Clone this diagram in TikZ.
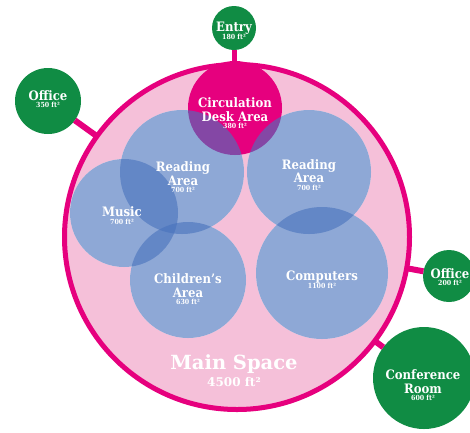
\documentclass[tikz,border=0pt]{standalone}
\usepackage{fontspec}
\newfontfamily\slab{DejaVu Serif Condensed}
\newfontfamily\slabwide{DejaVu Serif}
\definecolor{mag}{RGB}{230,0,126}
\definecolor{pinkfill}{RGB}{245,192,217}
\definecolor{grn}{RGB}{16,140,68}
\definecolor{blu}{RGB}{73,115,189}
\newcommand\areatxt[1]{{\fontsize{7}{7.5}\selectfont #1}}
\tikzset{
  room/.style={circle, inner sep=0pt, outer sep=0pt},
  bluearea/.style={room, fill=blu, fill opacity=0.62},
  greenroom/.style={room, fill=grn},
  link/.style={draw=mag, line width=6pt},
  lbl/.style={text=white, align=center, inner sep=0pt,
    font=\slab\bfseries\fontsize{13}{13.5}\selectfont},
  biglbl/.style={text=white, align=center, inner sep=0pt,
    font=\slabwide\bfseries\fontsize{19.5}{19}\selectfont},
}
\begin{document}
\begin{tikzpicture}[x=1pt,y=-1pt]
\useasboundingbox (0,0) rectangle (470,432);
\clip (0,0) rectangle (470,432);
% main space
\node[room, fill=pinkfill, draw=mag, line width=5pt, minimum size=345pt] (main) at (237,237) {};
% white under-discs for the translucent areas
\fill[white] (182,172) circle[radius=62pt];
\fill[white] (124,213) circle[radius=54pt];
\fill[white] (309,172) circle[radius=62pt];
\fill[white] (188,280) circle[radius=58pt];
\fill[white] (322,273) circle[radius=66pt];
% circulation desk
\node[room, fill=mag, minimum size=94pt] (circ) at (235,108) {};
% blue areas
\node[bluearea, minimum size=124pt] (readL) at (182,172) {};
\node[bluearea, minimum size=108pt] (music) at (124,213) {};
\node[bluearea, minimum size=124pt] (readR) at (309,172) {};
\node[bluearea, minimum size=116pt] (child) at (188,280) {};
\node[bluearea, minimum size=132pt] (comp) at (322,273) {};
% green rooms
\node[greenroom, minimum size=44pt] (entry) at (234,28) {};
\node[greenroom, minimum size=66pt] (officeL) at (48,101) {};
\node[greenroom, minimum size=52pt] (officeR) at (449,276) {};
\node[greenroom, minimum size=102pt] (conf) at (424,378) {};
% connectors
\draw[link] (officeL) -- (main);
\draw[link] (officeR) -- (main);
\draw[link] (conf) -- (main);
\draw[draw=mag, line width=5pt] (entry.south) -- (entry.south |- main.north);
% labels
\node[lbl] (tEntry) at (234,31) {Entry\\[-6pt]\areatxt{180 ft²}};
\node[lbl] (tOfficeL) at (48,99) {Office\\[-6pt]\areatxt{350 ft²}};
\node[lbl] (tCirc) at (235,113.5) {Circulation\\Desk Area\\[-6pt]\areatxt{380 ft²}};
\node[lbl] (tReadL) at (183,177.5) {Reading\\Area\\[-6pt]\areatxt{700 ft²}};
\node[lbl] (tReadR) at (309,175) {Reading\\Area\\[-6pt]\areatxt{700 ft²}};
\node[lbl] (tMusic) at (122,215.5) {Music\\[-6pt]\areatxt{700 ft²}};
\node[lbl] (tChild) at (188,289.5) {Children’s\\Area\\[-6pt]\areatxt{630 ft²}};
\node[lbl] (tComp) at (322,279.5) {Computers\\[-6pt]\areatxt{1100 ft²}};
\node[lbl] (tOfficeR) at (450,277) {Office\\[-6pt]\areatxt{200 ft²}};
\node[lbl] (tConf) at (423,385.5) {Conference\\Room\\[-6pt]\areatxt{600 ft²}};
\node[biglbl] (tMain) at (234,371) {Main Space\\[-2pt]{\fontsize{12}{12}\selectfont 4500 ft²}};
\end{tikzpicture}
\end{document}
